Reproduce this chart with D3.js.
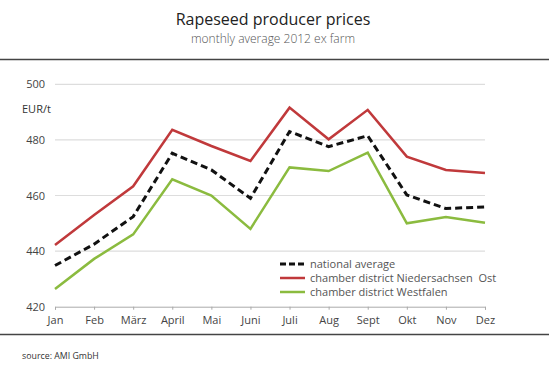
<!DOCTYPE html>
<html><head><meta charset="utf-8">
<script src="https://cdn.jsdelivr.net/npm/d3@7"></script>
<style>
body{margin:0;background:#fff;}
text{font-family:"Open Sans",sans-serif;}
</style></head>
<body>
<svg id="c" width="549" height="376"></svg>
<script>
const months = ["Jan","Feb","März","April","Mai","Juni","Juli","Aug","Sept","Okt","Nov","Dez"];
const nationalAverage = [434.8,442.5,452.4,475.2,469.2,459,483,477.6,481.5,460.2,455.3,455.9];
const niedersachsenOst = [442.2,453,463.3,483.6,477.8,472.4,491.6,480.2,490.8,474,469.2,468.1];
const westfalen = [426.4,437.2,446,465.8,460,448,470.1,468.8,475.4,450,452.3,450.2];
const yTicks = [420,440,460,480,500];
const seriesNames = ["national average","chamber district Niedersachsen  Ost","chamber district Westfalen"];
const seriesColors = ["#111","#c0393b","#8bbb3f"];

const svg = d3.select("#c");
const x = d3.scalePoint().domain(months).range([55,485]);
const y = d3.scaleLinear().domain([420,500]).range([306.7,84.3]);

// title
svg.append("text").attr("x",273).attr("y",25).attr("text-anchor","middle")
  .attr("font-size",16).attr("fill","#222").text("Rapeseed producer prices");
svg.append("text").attr("x",273).attr("y",43).attr("text-anchor","middle")
  .attr("font-size",12).attr("font-weight",300).attr("fill","#555").text("monthly average 2012 ex farm");
svg.append("line").attr("x1",0).attr("x2",549).attr("y1",59.5).attr("y2",59.5).attr("stroke","#444").attr("stroke-width",1.5);
svg.append("line").attr("x1",0).attr("x2",549).attr("y1",334.5).attr("y2",334.5).attr("stroke","#444").attr("stroke-width",1.5);

// gridlines
svg.append("g").selectAll("line").data(yTicks.filter(d=>d>420)).join("line")
  .attr("x1",55).attr("x2",485).attr("y1",d=>y(d)).attr("y2",d=>y(d))
  .attr("stroke","#ddd").attr("stroke-width",1.2);

// y tick labels
svg.append("g").selectAll("text").data(yTicks).join("text")
  .attr("x",45).attr("y",d=>y(d)+4).attr("text-anchor","end")
  .attr("font-size",11).attr("fill","#444").text(d=>d);
svg.append("text").attr("x",22).attr("y",113).attr("font-size",11).attr("fill","#333").text("EUR/t");

// x axis
const xa = svg.append("g").attr("transform",`translate(0,${y(420)})`)
  .call(d3.axisBottom(x).tickSize(3).tickPadding(7));
xa.select(".domain").attr("stroke","#aaa");
xa.selectAll(".tick line").attr("stroke","#aaa");
xa.selectAll(".tick text").attr("font-size",11).attr("fill","#444").attr("font-family","'Open Sans',sans-serif");

// lines
const line = d3.line().x((d,i)=>x(months[i])).y(d=>y(d));
const data = [nationalAverage,niedersachsenOst,westfalen];
[2,1,0].forEach(k=>{
  svg.append("path").datum(data[k]).attr("d",line).attr("fill","none")
    .attr("stroke",seriesColors[k]).attr("stroke-width",k===0?3:2.5)
    .attr("stroke-dasharray",k===0?"7,4":null).attr("stroke-linejoin","miter");
});

// legend
const lg = svg.append("g");
seriesNames.forEach((n,i)=>{
  const yy = 264 + i*14;
  lg.append("line").attr("x1",280).attr("x2",305).attr("y1",yy).attr("y2",yy)
    .attr("stroke",seriesColors[i]).attr("stroke-width",i===0?3:2.5)
    .attr("stroke-dasharray",i===0?"6,3":null);
  lg.append("text").attr("x",310).attr("y",yy+4).attr("font-size",11).attr("fill","#555").attr("xml:space","preserve").text(n);
});

svg.append("text").attr("x",22).attr("y",358.5).attr("font-size",8.8).attr("fill","#333").text("source: AMI GmbH");
</script>
</body></html>
